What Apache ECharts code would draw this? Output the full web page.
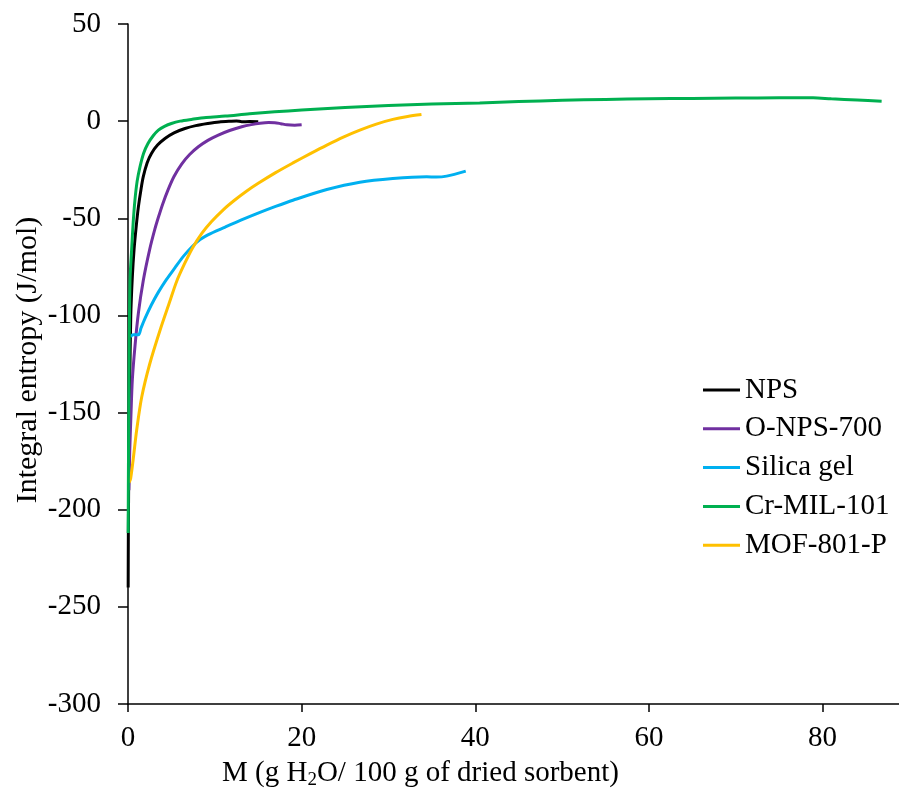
<!DOCTYPE html>
<html>
<head>
<meta charset="utf-8">
<script src="https://cdn.jsdelivr.net/npm/echarts@6.0.0/dist/echarts.min.js"></script>
<style>
  html, body { margin: 0; padding: 0; background: #fff; }
  #chart { width: 899px; height: 790px; }
</style>
</head>
<body>
<div id="chart"></div>
<script>
// Integral entropy of water sorption vs. uptake for five sorbents
const seriesNames = ['NPS', 'O-NPS-700', 'Silica gel', 'Cr-MIL-101', 'MOF-801-P'];
const seriesColors = ['#000000', '#7030A0', '#00B0F0', '#00B050', '#FFC000'];

const xTicks = [0, 20, 40, 60, 80];
const yTicks = [50, 0, -50, -100, -150, -200, -250, -300];

// NPS
const npsX = [0.02, 0.04, 0.1, 0.2, 0.32, 0.5, 0.7, 0.95, 1.2, 1.5, 1.76, 2.2, 2.7, 3.4, 4.26, 5.3, 6.56, 7.8, 9.2, 10.5, 11.9, 12.5, 13.1, 14.0, 15.0];
const npsY = [-240, -212, -175, -135, -100, -80, -66, -54, -44, -35, -28.6, -21.5, -16.6, -12.3, -8.9, -6.0, -3.8, -2.3, -1.2, -0.4, 0, 0.1, -0.3, -0.2, -0.3];

// O-NPS-700
const onpsX = [0.1, 0.2, 0.35, 0.5, 0.8, 1.19, 1.76, 2.5, 3.1, 3.5, 4.0, 4.6, 5.3, 6.2, 7.1, 8.1, 9.2, 10.4, 11.7, 13.1, 14.2, 15.2, 16.2, 16.9, 17.6, 18.3, 19.2, 20.0];
const onpsY = [-190, -170, -150, -133, -116, -99, -82, -66, -55.5, -49.5, -42.6, -35.5, -28.5, -22, -17.2, -13.2, -9.9, -7.2, -4.8, -2.9, -1.8, -1.1, -0.75, -0.8, -1.3, -1.9, -2.1, -1.9];

// Silica gel
const silicaX = [0.3, 0.6, 1.2, 1.5, 1.96, 2.7, 3.5, 4.4, 5.4, 6.4, 7.4, 8.3, 9.2, 11.2, 13.0, 15.2, 17.0, 19.0, 22.9, 26.7, 30.5, 34.4, 35.5, 36.7, 38.9];
const silicaY = [-111, -110, -110, -106.5, -101.5, -94.5, -88, -81.7, -75.5, -69.5, -64.5, -61, -58.5, -54.5, -51, -47, -43.9, -40.7, -35.2, -31.4, -29.5, -28.6, -28.8, -28.3, -25.7];

// Cr-MIL-101
const milX = [0.02, 0.06, 0.12, 0.23, 0.42, 0.6, 0.8, 1.05, 1.38, 1.8, 2.3, 2.9, 3.5, 4.2, 5.0, 6.0, 7.3, 9.0, 11.2, 14.0, 16.9, 20, 25, 30, 35, 40.5, 45, 50, 55, 60, 65, 70, 75, 78.9, 81, 84, 86.8];
const milY = [-212, -170, -130, -82, -66, -52, -40.6, -31, -23.5, -16.5, -11.5, -7.5, -4.6, -2.7, -1.2, 0, 0.9, 1.9, 2.6, 3.8, 4.8, 5.7, 7.0, 8.0, 8.8, 9.4, 10.1, 10.7, 11.2, 11.5, 11.7, 11.9, 12.0, 12.0, 11.5, 10.9, 10.3];

// MOF-801-P
const mofX = [0.12, 0.3, 0.6, 1.0, 1.58, 2.5, 3.7, 4.8, 5.6, 6.5, 7.4, 8.5, 9.6, 11.0, 12.3, 13.6, 15.0, 17.0, 19.0, 21.0, 22.9, 24.8, 26.7, 28.6, 30.5, 32.2, 33.8];
const mofY = [-186, -184, -174, -159, -142, -125, -107.5, -93, -82.5, -73.5, -65.5, -57.8, -51.8, -45.5, -40.6, -36.2, -32, -26.5, -21.5, -16.7, -12.3, -8.2, -4.6, -1.5, 0.9, 2.4, 3.4];

const allX = [npsX, onpsX, silicaX, milX, mofX];
const allY = [npsY, onpsY, silicaY, milY, mofY];

const FONT = "'Liberation Serif', 'Times New Roman', serif";

const zip = (xs, ys) => xs.map((x, i) => [x, ys[i]]);

const series = seriesNames.map((name, i) => ({
  name: name,
  type: 'line',
  data: zip(allX[i], allY[i]),
  showSymbol: false,
  symbol: 'none',
  smooth: 0.3,
  lineStyle: { width: 3, color: seriesColors[i] },
  itemStyle: { color: seriesColors[i] },
  z: [1, 2, 3, 5, 4][i]
}));

const chart = echarts.init(document.getElementById('chart'), null, { renderer: 'canvas' });

chart.setOption({
  animation: false,
  backgroundColor: '#ffffff',
  grid: { left: 128, top: 24, right: 0, bottom: 86, containLabel: false },
  xAxis: {
    type: 'value',
    min: 0,
    max: 88.8,
    interval: 20,
    splitLine: { show: false },
    axisLine: { onZero: false, lineStyle: { color: '#000', width: 1.5 } },
    axisTick: { show: true, inside: false, length: 8, customValues: xTicks, lineStyle: { color: '#000', width: 1.5 } },
    axisLabel: { customValues: xTicks, margin: 20, color: '#000', fontSize: 29, fontFamily: FONT }
  },
  yAxis: {
    type: 'value',
    min: -300,
    max: 50,
    interval: 50,
    splitLine: { show: false },
    axisLine: { show: true, onZero: false, lineStyle: { color: '#000', width: 1.5 } },
    axisTick: { show: true, inside: false, length: 10, customValues: yTicks, lineStyle: { color: '#000', width: 1.5 } },
    axisLabel: { customValues: yTicks, margin: 27, color: '#000', fontSize: 29, fontFamily: FONT }
  },
  legend: {
    orient: 'vertical',
    left: 698,
    top: 370,
    icon: 'rect',
    itemWidth: 37,
    itemHeight: 3,
    itemGap: 8.8,
    data: seriesNames,
    textStyle: { color: '#000', fontSize: 29, fontFamily: FONT, lineHeight: 30 }
  },
  graphic: [
    {
      type: 'text',
      left: 222,
      top: 757,
      style: {
        text: '{t|M (g H}{s|2}{t|O/ 100 g of dried sorbent)}',
        rich: {
          t: { fontSize: 29, fontFamily: FONT, fill: '#000', lineHeight: 34 },
          s: { fontSize: 19, fontFamily: FONT, fill: '#000', verticalAlign: 'bottom', lineHeight: 34, padding: [14, 0, 0, 0] }
        }
      }
    },
    {
      type: 'text',
      x: 28,
      y: 360,
      rotation: Math.PI / 2,
      style: {
        text: 'Integral entropy (J/mol)',
        fontSize: 30,
        fontFamily: FONT,
        fill: '#000',
        align: 'center',
        verticalAlign: 'middle'
      }
    }
  ],
  series: series
});
</script>
</body>
</html>
